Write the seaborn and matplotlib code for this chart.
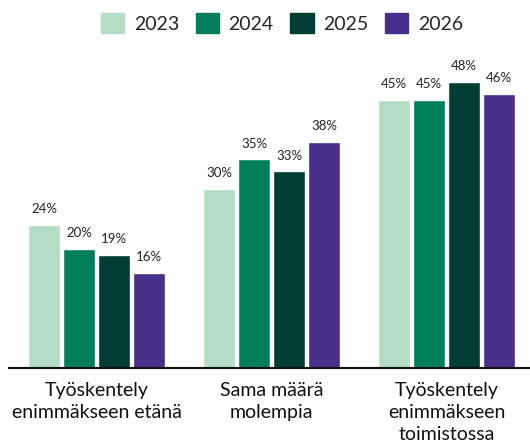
import pandas as pd
import matplotlib.pyplot as plt
import seaborn as sns

# categories and yearly shares (%)
categories = ["Työskentely\nenimmäkseen etänä", "Sama määrä\nmolempia", "Työskentely\nenimmäkseen\ntoimistossa"]
years = ["2023", "2024", "2025", "2026"]
v2023 = [24, 30, 45]
v2024 = [20, 35, 45]
v2025 = [19, 33, 48]
v2026 = [16, 38, 46]
colors = ["#b5dcc4", "#007f5a", "#003d33", "#482f8a"]

rows = []
for y, vals in zip(years, [v2023, v2024, v2025, v2026]):
    for c, v in zip(categories, vals):
        rows.append({"category": c, "year": y, "value": v})
df = pd.DataFrame(rows)

sns.set_style("white")
plt.rcParams["font.family"] = ["Lato", "DejaVu Sans"]

fig = plt.figure(figsize=(5.3, 4.48), dpi=100)
ax = fig.add_axes([9 / 530, 80 / 448, 525 / 530, 298 / 448])
sns.barplot(data=df, x="category", y="value", hue="year", palette=colors,
            width=0.8, gap=0.085, saturation=1, ax=ax, legend=True)

for cont in ax.containers:
    ax.bar_label(cont, fmt="%d%%", padding=7, fontsize=9.5, color="#222222")

ax.set_xlim(-0.5, 2.5)
ax.set_ylim(0, 50)
ax.set_xlabel("")
ax.set_ylabel("")
ax.set_yticks([])
for s in ["top", "right", "left"]:
    ax.spines[s].set_visible(False)
ax.spines["bottom"].set_color("#111111")
ax.spines["bottom"].set_linewidth(1.5)
ax.tick_params(axis="x", length=0, pad=10, labelsize=14, colors="#111111")
for lbl in ax.get_xticklabels():
    lbl.set_linespacing(1.35)

ax.legend_.remove()
handles = [plt.Rectangle((0, 0), 1, 1, color=c) for c in colors]
fig.legend(handles, years, loc="upper center", bbox_to_anchor=(0.532, 1.01),
           ncol=4, frameon=False, fontsize=14, handlelength=1.2, handleheight=1.2,
           handletextpad=0.5, columnspacing=0.85)

fig.savefig("out.png", dpi=100)
